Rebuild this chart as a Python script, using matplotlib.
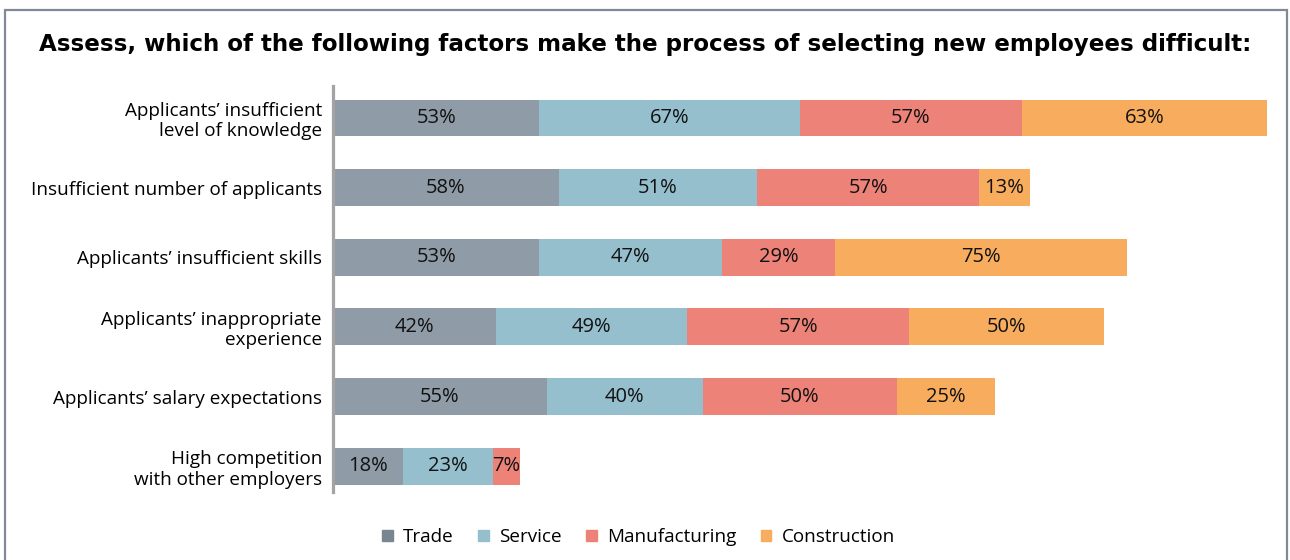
import matplotlib.pyplot as plt
from matplotlib.patches import Rectangle

factors = [
    "Applicants\u2019 insufficient\nlevel of knowledge",
    "Insufficient number of applicants",
    "Applicants\u2019 insufficient skills",
    "Applicants\u2019 inappropriate\nexperience",
    "Applicants\u2019 salary expectations",
    "High competition\nwith other employers",
]
sectors = ["Trade", "Service", "Manufacturing", "Construction"]
trade = [53, 58, 53, 42, 55, 18]
service = [67, 51, 47, 49, 40, 23]
manufacturing = [57, 57, 29, 57, 50, 7]
construction = [63, 13, 75, 50, 25, 0]

colors = ["#8f9ba6", "#96bfce", "#ec8278", "#f8ad5e"]
legend_colors = ["#7a8592", "#96bfce", "#ec8278", "#f8ad5e"]

plt.rcParams["font.family"] = ["Open Sans", "DejaVu Sans"]

W, H = 1290, 560
fig = plt.figure(figsize=(W / 100, H / 100), dpi=100)

# plot area: x in data units, 3.892 px per percentage point
px_per_unit = 3.892
x_max = 241
ax = fig.add_axes([333 / W, 1 - 492 / H, x_max * px_per_unit / W, (492 - 86) / H])

series = [trade, service, manufacturing, construction]
ypos = list(range(len(factors)))
left = [0] * len(factors)
for name, vals, col in zip(sectors, series, colors):
    ax.barh(ypos, vals, left=left, height=0.53, color=col, label=name)
    for y, l, v in zip(ypos, left, vals):
        if v > 0:
            ax.text(l + v / 2, y, f"{v}%", ha="center", va="center",
                    fontsize=14.5, color="#111111")
    left = [a + b for a, b in zip(left, vals)]

ax.set_xlim(0, x_max)
ax.set_ylim(5.37, -0.46)
ax.set_yticks(ypos)
ax.set_yticklabels(factors, fontsize=13.6, linespacing=1.17)
ax.tick_params(axis="y", length=0, pad=8)
ax.set_xticks([])
for side in ["top", "right", "bottom"]:
    ax.spines[side].set_visible(False)
ax.spines["left"].set_color("#a3a3a3")
ax.spines["left"].set_linewidth(2.3)

fig.text(0.5, 1 - 45 / H,
         "Assess, which of the following factors make the process of selecting new employees difficult:",
         ha="center", va="center", fontsize=16.6, fontweight="bold",
         family="DejaVu Sans")

handles = [Rectangle((0, 0), 1, 1, color=c) for c in legend_colors]
fig.legend(handles, sectors, loc="center", bbox_to_anchor=(0.495, 1 - 537 / H),
           ncol=4, frameon=False, fontsize=13.6, handlelength=0.55,
           handleheight=0.55, handletextpad=0.55, columnspacing=1.3)

# outer frame
fig.patches.append(Rectangle((5 / W, -0.1), (1287 - 5) / W, 1.1 - 10 / H,
                             transform=fig.transFigure, fill=False,
                             edgecolor="#7f8998", linewidth=1.6))

fig.savefig("out.png", dpi=100)
